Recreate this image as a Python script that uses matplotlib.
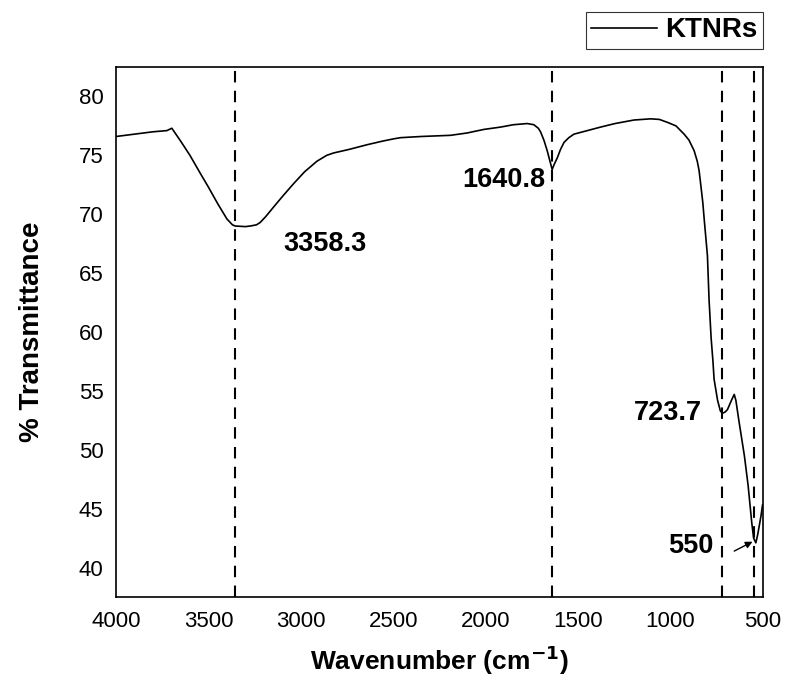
import matplotlib
matplotlib.use("Agg")
import matplotlib.pyplot as plt

# Spettro FTIR dei KTNRs: valori
wavenumber = [4000, 3900, 3800, 3725, 3698, 3650, 3600, 3545, 3500, 3450,
              3400, 3370, 3355, 3300, 3274, 3240, 3220, 3190, 3148, 3100,
              3039, 2980, 2913, 2860, 2823, 2740, 2642, 2560, 2498, 2461,
              2350, 2190, 2100, 2010, 1919, 1850, 1775, 1739, 1715, 1703,
              1685, 1667, 1652, 1640, 1630, 1612, 1595, 1576, 1550, 1522,
              1450, 1378, 1300, 1197, 1107, 1060, 1016, 970, 945, 926,
              900, 872, 855, 845, 836, 825, 817, 800, 791, 780,
              770, 764, 745, 730, 719, 705, 692, 670, 655, 646,
              630, 619, 600, 580, 560, 550, 538, 528, 520, 510, 502]
transmittance = [76.6, 76.8, 77.0, 77.1, 77.3, 76.2, 75.0, 73.5, 72.3, 70.9,
                 69.6, 69.1, 69.0, 68.95, 69.0, 69.1, 69.3, 69.8, 70.6, 71.5,
                 72.6, 73.6, 74.5, 75.0, 75.2, 75.5, 75.9, 76.2, 76.4, 76.5,
                 76.6, 76.7, 76.9, 77.2, 77.4, 77.6, 77.7, 77.6, 77.3, 77.0,
                 76.3, 75.4, 74.5, 73.8, 74.2, 74.8, 75.5, 76.1, 76.5, 76.8,
                 77.1, 77.4, 77.7, 78.0, 78.1, 78.05, 77.8, 77.5, 77.1, 76.8,
                 76.3, 75.4, 74.5, 73.7, 72.5, 71.0, 69.5, 66.5, 62.7, 59.5,
                 57.5, 56.0, 54.2, 53.3, 53.1, 53.2, 53.4, 54.2, 54.7, 54.2,
                 52.5, 51.4, 49.5, 47.0, 43.8, 42.5, 42.1, 42.8, 43.5, 44.4, 45.3]

# linee tratteggiate e etichette dei picchi
peaks = [3358.3, 1640.8, 723.7, 550]
peak_labels = ['3358.3', '1640.8', '723.7', '550']
label_pos = [(2868, 67.5), (1676, 72.9), (827, 53.1), (766, 41.8)]
arrow_tail = (655, 41.4)
arrow_head = (556, 42.2)

plt.rcParams['font.family'] = ['Liberation Sans', 'DejaVu Sans']

fig = plt.figure(figsize=(7.85, 6.81), dpi=100)
ax = fig.add_axes([0.1478, 0.1233, 0.824, 0.7783])

ax.plot(wavenumber, transmittance, color='black', linewidth=1.2, label='KTNRs')

for p in peaks:
    ax.axvline(p, color='black', linewidth=1.5, linestyle=(0, (5.5, 4)))

ax.text(label_pos[0][0], label_pos[0][1], peak_labels[0], fontsize=19.5,
        fontweight='bold', ha='center', va='center')
for txt, (x, y) in zip(peak_labels[1:], label_pos[1:]):
    ax.text(x, y, txt, fontsize=19.5, fontweight='bold', ha='right', va='center')

# freccia verso il picco a 550
ax.annotate('', xy=arrow_head, xytext=arrow_tail,
            arrowprops=dict(arrowstyle='-|>', color='black', lw=1.0,
                            mutation_scale=10, shrinkA=0, shrinkB=0))

ax.set_xlim(4000, 500)
ax.set_ylim(37.5, 82.5)
ax.set_xticks([4000, 3500, 3000, 2500, 2000, 1500, 1000, 500])
ax.set_yticks([40, 45, 50, 55, 60, 65, 70, 75, 80])
ax.tick_params(length=0, labelsize=16)
ax.tick_params(axis='x', pad=10)
ax.tick_params(axis='y', pad=9)
for s in ax.spines.values():
    s.set_linewidth(1.2)

ax.set_xlabel('Wavenumber (cm$^{\\mathbf{-1}}$)', fontsize=19, fontweight='bold', labelpad=8)
ax.set_ylabel('% Transmittance', fontsize=20, fontweight='bold', labelpad=24)

leg = ax.legend(loc='lower right', bbox_to_anchor=(1.0, 1.034), frameon=True,
                fancybox=False, edgecolor='black', handlelength=2.35,
                borderpad=0.2, handletextpad=0.3, borderaxespad=0,
                prop={'weight': 'bold', 'size': 20})
leg.get_frame().set_linewidth(0.8)

fig.savefig('out.png', dpi=100)
